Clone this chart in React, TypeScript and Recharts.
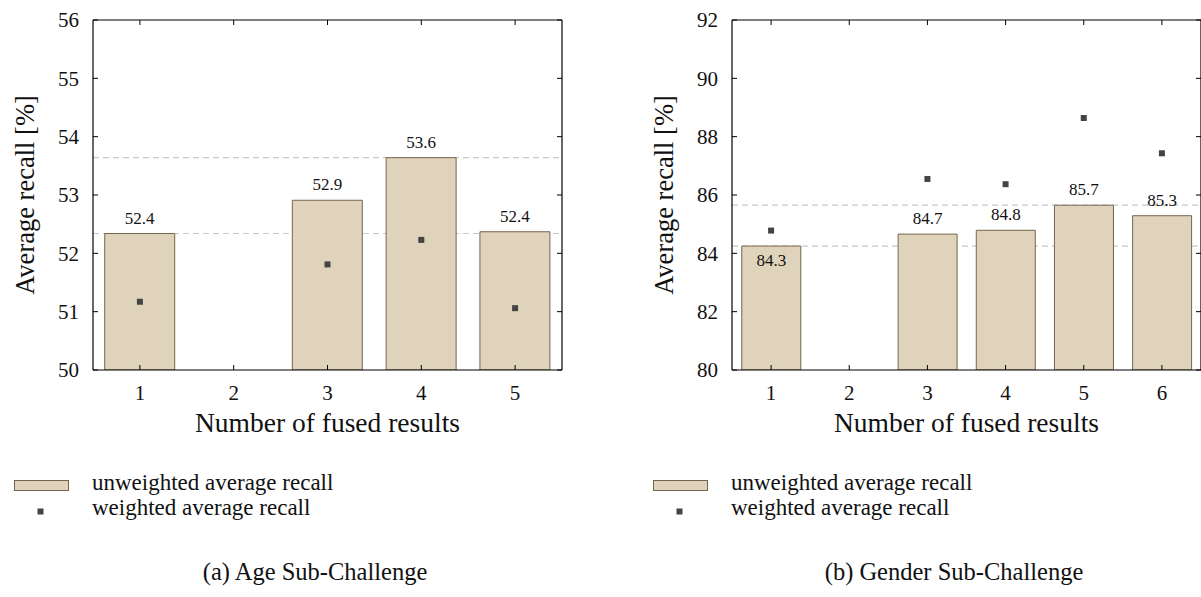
import React from 'react';
import {
  ComposedChart,
  Bar,
  Scatter,
  XAxis,
  YAxis,
  CartesianGrid,
  LabelList,
  Label,
  Legend,
} from 'recharts';

// ---------- data ----------
const ageCategories = ['1', '2', '3', '4', '5'];
const ageUnweighted: (number | null)[] = [52.34, null, 52.91, 53.64, 52.37];
const ageWeighted: (number | null)[] = [51.17, null, 51.81, 52.23, 51.06];
const ageLabels = ['52.4', '', '52.9', '53.6', '52.4'];
const ageTicks = [50, 51, 52, 53, 54, 55, 56];

const genderCategories = ['1', '2', '3', '4', '5', '6'];
const genderUnweighted: (number | null)[] = [84.25, null, 84.66, 84.79, 85.65, 85.29];
const genderWeighted: (number | null)[] = [84.78, null, 86.55, 86.37, 88.64, 87.43];
const genderLabels = ['84.3', '', '84.7', '84.8', '85.7', '85.3'];
const genderTicks = [80, 82, 84, 86, 88, 90, 92];

const legendLabels = ['unweighted average recall', 'weighted average recall'];
const xAxisTitle = 'Number of fused results';
const yAxisTitle = 'Average recall [%]';

// ---------- style ----------
const FONT = "'Liberation Serif', 'Times New Roman', serif";
const TEXT = '#111111';
const BAR_FILL = '#dfd3bb';
const BAR_STROKE = '#75654c';
const MARK = '#444444';
const DASH = '#c8c8c8';

const NoTick = () => <g />;

const Square = (props: any) => {
  const { cx, cy } = props;
  if (!Number.isFinite(cx) || !Number.isFinite(cy)) return <g />;
  return <rect x={cx - 3} y={cy - 3} width={6} height={6} fill={MARK} />;
};

const XTitle = (props: any) => {
  const vb = props.viewBox || {};
  return (
    <text
      x={vb.x + vb.width / 2}
      y={vb.y + 62}
      textAnchor="middle"
      fontFamily={FONT}
      fontSize={27.5}
      fill={TEXT}
    >
      {xAxisTitle}
    </text>
  );
};

const YTitle = (props: any) => {
  const vb = props.viewBox || {};
  const cx = vb.x + 12;
  const cy = vb.y + vb.height / 2;
  return (
    <text
      x={cx}
      y={cy}
      transform={`rotate(-90 ${cx} ${cy})`}
      textAnchor="middle"
      dominantBaseline="central"
      fontFamily={FONT}
      fontSize={26.5}
      fill={TEXT}
    >
      {yAxisTitle}
    </text>
  );
};

const makeBarLabel = (inside: number[]) => (props: any) => {
  const { x, y, width, value, index } = props;
  if (!value || !Number.isFinite(x) || !Number.isFinite(y)) return <g />;
  const isInside = inside.includes(index);
  return (
    <text
      x={x + width / 2}
      y={isInside ? y + 20 : y - 10}
      textAnchor="middle"
      fontFamily={FONT}
      fontSize={17}
      fill={TEXT}
    >
      {value}
    </text>
  );
};

const makeLegend = (caption: string) => () => (
  <svg width={600} height={127} style={{ display: 'block' }}>
    <rect x={14.5} y={10.5} width={54} height={10} fill={BAR_FILL} stroke={BAR_STROKE} strokeWidth={1} />
    <text x={92} y={20} fontFamily={FONT} fontSize={23} fill={TEXT}>
      {legendLabels[0]}
    </text>
    <rect x={37.5} y={38.5} width={6} height={6} fill={MARK} />
    <text x={92} y={45} fontFamily={FONT} fontSize={23} fill={TEXT}>
      {legendLabels[1]}
    </text>
    <text x={315} y={110} textAnchor="middle" fontFamily={FONT} fontSize={24.5} fill={TEXT}>
      {caption}
    </text>
  </svg>
);

type SubProps = {
  categories: string[];
  unweighted: (number | null)[];
  weighted: (number | null)[];
  labels: string[];
  ticks: number[];
  inside: number[];
  caption: string;
};

function SubChart({ categories, unweighted, weighted, labels, ticks, inside, caption }: SubProps) {
  const data = categories.map((c, i) => ({
    cat: c,
    uar: unweighted[i],
    war: weighted[i],
    lbl: labels[i],
  }));
  const valid = unweighted.filter((v) => v != null) as number[];
  const baseline = valid[0];
  const best = Math.max(...valid);
  const domain = [ticks[0], ticks[ticks.length - 1]];
  const tickStyle = { fontSize: 21, fill: TEXT, fontFamily: FONT };

  return (
    <ComposedChart
      width={600}
      height={597}
      data={data}
      margin={{ top: 20, right: 38, left: 13, bottom: 157 }}
      barCategoryGap="12.5%"
    >
      <CartesianGrid
        xAxisId="main"
        yAxisId="main"
        vertical={false}
        horizontal
        horizontalValues={[best, baseline]}
        stroke={DASH}
        strokeDasharray="6 4"
        strokeWidth={1.2}
      />
      <XAxis
        xAxisId="main"
        dataKey="cat"
        height={70}
        interval={0}
        axisLine={{ stroke: '#000', strokeWidth: 1.2 }}
        tickLine={false}
        tickSize={0}
        tickMargin={15}
        tick={tickStyle}
      >
        <Label content={XTitle} />
      </XAxis>
      <XAxis
        xAxisId="bottomTicks"
        dataKey="cat"
        orientation="bottom"
        mirror
        interval={0}
        axisLine={false}
        tickLine={{ stroke: '#000' }}
        tickSize={5}
        tick={NoTick}
      />
      <XAxis
        xAxisId="top"
        dataKey="cat"
        orientation="top"
        mirror
        interval={0}
        axisLine={{ stroke: '#000', strokeWidth: 1.2 }}
        tickLine={{ stroke: '#000' }}
        tickSize={5}
        tick={NoTick}
      />
      <YAxis
        yAxisId="main"
        width={80}
        type="number"
        domain={domain}
        ticks={ticks}
        allowDataOverflow
        interval={0}
        axisLine={{ stroke: '#000', strokeWidth: 1.2 }}
        tickLine={false}
        tickSize={0}
        tickMargin={14}
        tick={tickStyle}
      >
        <Label content={YTitle} />
      </YAxis>
      <YAxis
        yAxisId="leftTicks"
        orientation="left"
        mirror
        type="number"
        domain={domain}
        ticks={ticks}
        allowDataOverflow
        interval={0}
        axisLine={false}
        tickLine={{ stroke: '#000' }}
        tickSize={5}
        tick={NoTick}
      />
      <YAxis
        yAxisId="right"
        orientation="right"
        mirror
        type="number"
        domain={domain}
        ticks={ticks}
        allowDataOverflow
        interval={0}
        axisLine={{ stroke: '#000', strokeWidth: 1.2 }}
        tickLine={{ stroke: '#000' }}
        tickSize={5}
        tick={NoTick}
      />
      <Bar
        xAxisId="main"
        yAxisId="main"
        dataKey="uar"
        fill={BAR_FILL}
        stroke={BAR_STROKE}
        strokeWidth={1}
        isAnimationActive={false}
      >
        <LabelList dataKey="lbl" content={makeBarLabel(inside)} />
      </Bar>
      <Scatter
        xAxisId="main"
        yAxisId="main"
        dataKey="war"
        shape={Square}
        isAnimationActive={false}
      />
      <Legend
        layout="horizontal"
        verticalAlign="middle"
        align="center"
        content={makeLegend(caption)}
        wrapperStyle={{ left: 0, top: 470, width: 600, height: 127 }}
      />
    </ComposedChart>
  );
}

export default function App() {
  return (
    <div
      style={{
        position: 'absolute',
        left: 0,
        top: 0,
        width: 1201,
        height: 597,
        overflow: 'hidden',
        background: '#fff',
      }}
    >
      <div style={{ position: 'absolute', left: 0, top: 0 }}>
        <SubChart
          categories={ageCategories}
          unweighted={ageUnweighted}
          weighted={ageWeighted}
          labels={ageLabels}
          ticks={ageTicks}
          inside={[]}
          caption="(a) Age Sub-Challenge"
        />
      </div>
      <div style={{ position: 'absolute', left: 639, top: 0 }}>
        <SubChart
          categories={genderCategories}
          unweighted={genderUnweighted}
          weighted={genderWeighted}
          labels={genderLabels}
          ticks={genderTicks}
          inside={[0]}
          caption="(b) Gender Sub-Challenge"
        />
      </div>
    </div>
  );
}
